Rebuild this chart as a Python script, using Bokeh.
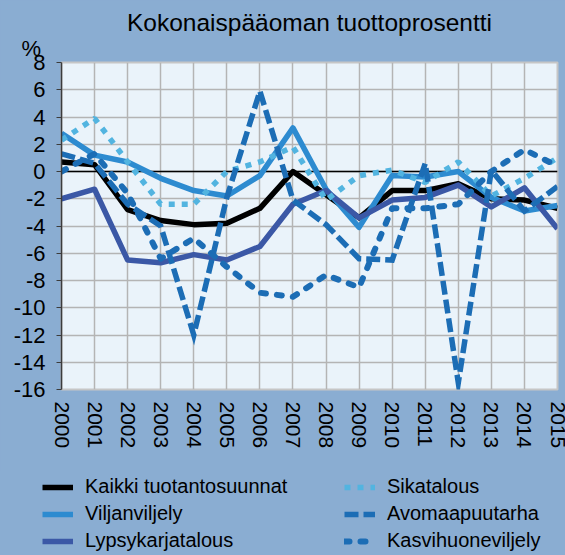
from bokeh.plotting import figure
from bokeh.layouts import column
from bokeh.models import (Range1d, Span, Legend, LegendItem, FixedTicker, Title,
                          GlobalInlineStyleSheet)
from bokeh.embed import file_html
from bokeh.resources import INLINE

# ---- data ----
years = list(range(2000, 2016))
year_labels = [str(y) for y in years]
y_ticks = list(range(-16, 9, 2))
y_tick_labels = [str(t) for t in y_ticks]

kaikki = [0.7, 0.5, -2.8, -3.6, -3.9, -3.8, -2.7, 0.0, -1.7, -3.4, -1.4, -1.4, -0.9, -2.0, -2.1, -2.7]
viljan = [2.8, 1.2, 0.7, -0.5, -1.4, -1.8, -0.3, 3.2, -1.3, -4.1, -0.3, -0.4, 0.0, -1.9, -2.9, -2.5]
lypsy = [-2.0, -1.3, -6.5, -6.7, -6.1, -6.5, -5.5, -2.4, -1.4, -3.4, -2.1, -1.9, -1.0, -2.6, -1.2, -4.2]
sika = [2.3, 3.9, 0.7, -2.4, -2.4, 0.0, 0.7, 1.8, -2.1, -0.3, 0.1, -0.8, 0.7, -1.8, -0.5, 1.0]
avomaa = [1.3, 0.6, -2.4, -4.0, -12.0, -1.9, 5.9, -2.1, -3.9, -6.4, -6.5, 0.6, -15.5, 0.1, -2.9, -1.1]
kasvi = [0.0, 1.3, -1.6, -6.4, -4.9, -7.0, -8.9, -9.2, -7.6, -8.5, -2.7, -2.7, -2.4, 0.0, 1.6, 0.4]

names = ["Kaikki tuotantosuunnat", "Viljanviljely", "Lypsykarjatalous",
         "Sikatalous", "Avomaapuutarha", "Kasvihuoneviljely"]
title_text = "Kokonaispääoman tuottoprosentti"
unit_text = "%"

# ---- style ----
BG = "#8aadd2"
FONT = "Liberation Sans"

styles = [
    dict(line_color="black", line_width=5.5, line_join="round"),
    dict(line_color="#2d8bd0", line_width=5.5, line_join="round"),
    dict(line_color="#3b58a6", line_width=5.5, line_join="round"),
    dict(line_color="#52b4e0", line_width=5.5, line_dash="6 7"),
    dict(line_color="#1c6db5", line_width=5.5, line_dash="14 5", line_join="miter"),
    dict(line_color="#1c6db5", line_width=6, line_dash="5 11", line_cap="round",
         line_join="round"),
]
all_series = [kaikki, viljan, lypsy, sika, avomaa, kasvi]

p = figure(width=565, height=470, output_backend="svg", toolbar_location=None, title=None,
           x_range=Range1d(2000, 2015), y_range=Range1d(-16, 8),
           min_border_left=61, min_border_right=8, min_border_top=62, min_border_bottom=81)
p.background_fill_color = "#eaf3fa"
p.border_fill_color = BG
p.outline_line_color = "#c6c6c6"
p.outline_line_width = 2
p.stylesheets = [GlobalInlineStyleSheet(css="body{background:%s;}" % BG)]

# axes
p.xaxis.ticker = FixedTicker(ticks=years)
p.xaxis.major_label_overrides = {y: l for y, l in zip(years, year_labels)}
p.xaxis.major_label_orientation = "vertical"
p.xaxis.axis_line_color = None
p.xaxis.major_tick_line_color = None
p.xaxis.major_tick_out = 0
p.xaxis.major_tick_in = 0
p.xaxis.minor_tick_line_color = None
p.xaxis.minor_tick_out = 0
p.xaxis.major_label_standoff = 12
p.xaxis.major_label_text_font = FONT
p.xaxis.major_label_text_font_size = "21px"
p.xaxis.major_label_text_line_height = 0.9
p.xaxis.major_label_text_color = "black"

p.yaxis.ticker = FixedTicker(ticks=y_ticks)
p.yaxis.major_label_overrides = {t: l for t, l in zip(y_ticks, y_tick_labels)}
p.yaxis.axis_line_color = "#3c3c3c"
p.yaxis.axis_line_width = 1.5
p.yaxis.major_tick_line_color = "#3c3c3c"
p.yaxis.major_tick_out = 5
p.yaxis.major_tick_in = 0
p.yaxis.minor_tick_line_color = None
p.yaxis.major_label_standoff = 11
p.yaxis.major_label_text_font = FONT
p.yaxis.major_label_text_font_size = "22px"
p.yaxis.major_label_text_color = "black"

p.xgrid.ticker = FixedTicker(ticks=years)
p.ygrid.ticker = FixedTicker(ticks=y_ticks)
for g in (p.xgrid, p.ygrid):
    g.grid_line_color = "#b4b4b4"
    g.grid_line_width = 1.5

p.add_layout(Span(location=0, dimension="width", line_color="black", line_width=1.3,
                  level="underlay"))

for vals, kw in zip(all_series, styles):
    p.line(years, vals, **kw)

# titles (first added sits closest to the plot)
p.add_layout(Title(text=unit_text, align="left", offset=-40, standoff=0,
                   vertical_align="top",
                   text_font=FONT, text_font_size="22px", text_font_style="normal",
                   text_color="black"), "above")
p.add_layout(Title(text=title_text, align="center", standoff=0,
                   text_font=FONT, text_font_size="24.5px", text_font_style="normal",
                   text_color="black"), "above")

# ---- legend strip below the chart (series drawn outside its visible range) ----
lg = figure(width=565, height=85, output_backend="svg", toolbar_location=None, title=None,
            x_axis_type=None, y_axis_type=None,
            x_range=Range1d(2000, 2015), y_range=Range1d(100, 101),
            min_border=0, min_border_left=0, min_border_right=0,
            min_border_top=0, min_border_bottom=0)
lg.background_fill_color = BG
lg.border_fill_color = BG
lg.outline_line_color = None

leg_x = 0
if "frame_align" in lg.properties():
    lg.frame_align = False
    leg_x = 42

proxies = [lg.line(years, vals, **kw) for vals, kw in zip(all_series, styles)]
items = [LegendItem(label=n, renderers=[r]) for n, r in zip(names, proxies)]
ordered = [items[0], items[3], items[1], items[4], items[2], items[5]]
col_gap = 255 if leg_x else 236
legend = Legend(items=ordered, location=(leg_x, 3), orientation="horizontal", ncols=2,
                background_fill_alpha=0, border_line_alpha=0,
                padding=0, margin=0, spacing=4,
                glyph_width=31, glyph_height=22, label_height=22, label_width=col_gap,
                label_standoff=12,
                label_text_font=FONT, label_text_font_size="20px",
                label_text_color="black", label_text_baseline="middle")
lg.add_layout(legend)

layout = column(p, lg, spacing=0)
open("out.html", "w").write(file_html(layout, INLINE))
